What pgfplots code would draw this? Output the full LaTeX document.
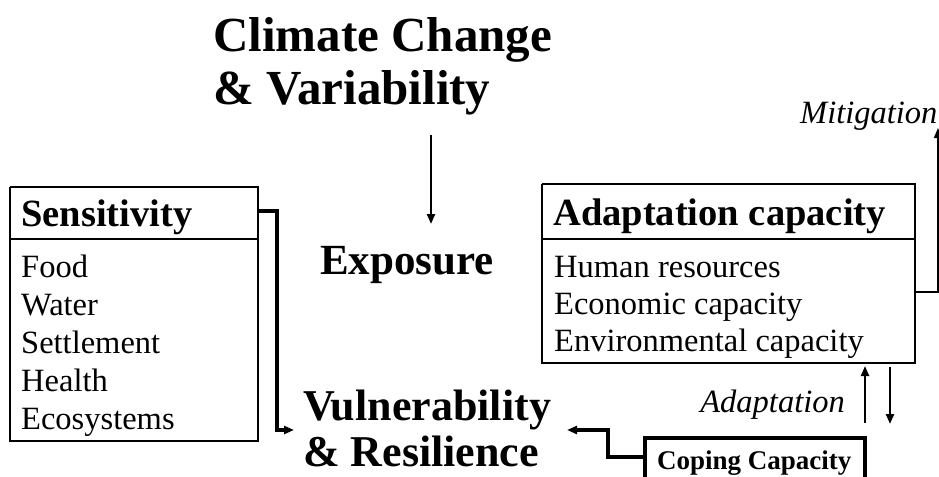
\documentclass[border=0pt]{standalone}
\usepackage{fontspec}
\setmainfont{Liberation Serif}
\usepackage{pgfplots}
\pgfplotsset{compat=1.18}
\usetikzlibrary{arrows.meta}

\newcommand{\hd}[1]{\fontsize{#1bp}{#1bp}\selectfont\bfseries}
\newcommand{\txt}{\fontsize{32.5bp}{34bp}\selectfont}

\begin{document}
\begin{tikzpicture}
\begin{axis}[
  width=939bp, height=477bp, scale only axis,
  xmin=0, xmax=939, ymin=0, ymax=477, y dir=reverse,
  hide axis, clip=false, no markers,
  every axis plot/.append style={sharp plot, line cap=butt, line join=miter},
  tip/.style={-{Triangle[length=10bp,width=8bp]}},
]
% boxes
\addplot[black, line width=1.1bp] coordinates {(10,187) (258,187) (258,441) (10,441) (10,187)};
\addplot[black, line width=1.1bp] coordinates {(10,239) (258,239)};
\addplot[black, line width=1.1bp] coordinates {(542,184) (915,184) (915,363) (542,363) (542,184)};
\addplot[black, line width=1.1bp] coordinates {(542,239) (915,239)};
\addplot[black, line width=3.4bp] coordinates {(645,480) (645,438) (865,438) (865,480)};
% connectors
\addplot[black, line width=3.2bp, tip] coordinates {(258,211) (277,211) (277,430) (294,430)};
\addplot[black, line width=3.2bp, tip] coordinates {(645,457) (608,457) (608,430) (567,430)};
\addplot[black, line width=2.2bp, tip] coordinates {(431,135) (431,224)};
\addplot[black, line width=2.2bp, tip] coordinates {(865,423) (865,366)};
\addplot[black, line width=2.2bp, tip] coordinates {(890,367) (890,424)};
\addplot[black, line width=1.6bp, tip] coordinates {(915,292) (938,292) (938,128)};

% labels
\node[anchor=base west, inner sep=0] at (axis cs:213,52) {\hd{49}Climate Change};
\node[anchor=base west, inner sep=0] at (axis cs:213,104) {\hd{49}\& Variability};
\node[anchor=base west, inner sep=0] at (axis cs:320,274) {\hd{43}Exposure};
\node[anchor=base west, inner sep=0] at (axis cs:303,420) {\hd{44}Vulnerability};
\node[anchor=base west, inner sep=0] at (axis cs:303,466) {\hd{44}\& Resilience};
\node[anchor=base west, inner sep=0] at (axis cs:21,226) {\hd{38.5}Sensitivity};
\node[anchor=base west, inner sep=0] at (axis cs:21,277) {\txt Food};
\node[anchor=base west, inner sep=0] at (axis cs:21,315) {\txt Water};
\node[anchor=base west, inner sep=0] at (axis cs:21,353) {\txt Settlement};
\node[anchor=base west, inner sep=0] at (axis cs:21,391) {\txt Health};
\node[anchor=base west, inner sep=0] at (axis cs:21,429) {\txt Ecosystems};
\node[anchor=base west, inner sep=0] at (axis cs:553,225) {\hd{38.5}Adaptation capacity};
\node[anchor=base west, inner sep=0] at (axis cs:554,277) {\txt Human resources};
\node[anchor=base west, inner sep=0] at (axis cs:554,314) {\txt Economic capacity};
\node[anchor=base west, inner sep=0] at (axis cs:554,351) {\txt Environmental capacity};
\node[anchor=base west, inner sep=0] at (axis cs:800,123) {\txt\itshape Mitigation};
\node[anchor=base east, inner sep=0] at (axis cs:845,412) {\txt\itshape Adaptation};
\node[anchor=base west, inner sep=0] at (axis cs:657,469) {\hd{27}Coping Capacity};
\end{axis}
\pgfresetboundingbox
\path[use as bounding box] (0,0) rectangle (939bp,477bp);
\end{tikzpicture}
\end{document}
